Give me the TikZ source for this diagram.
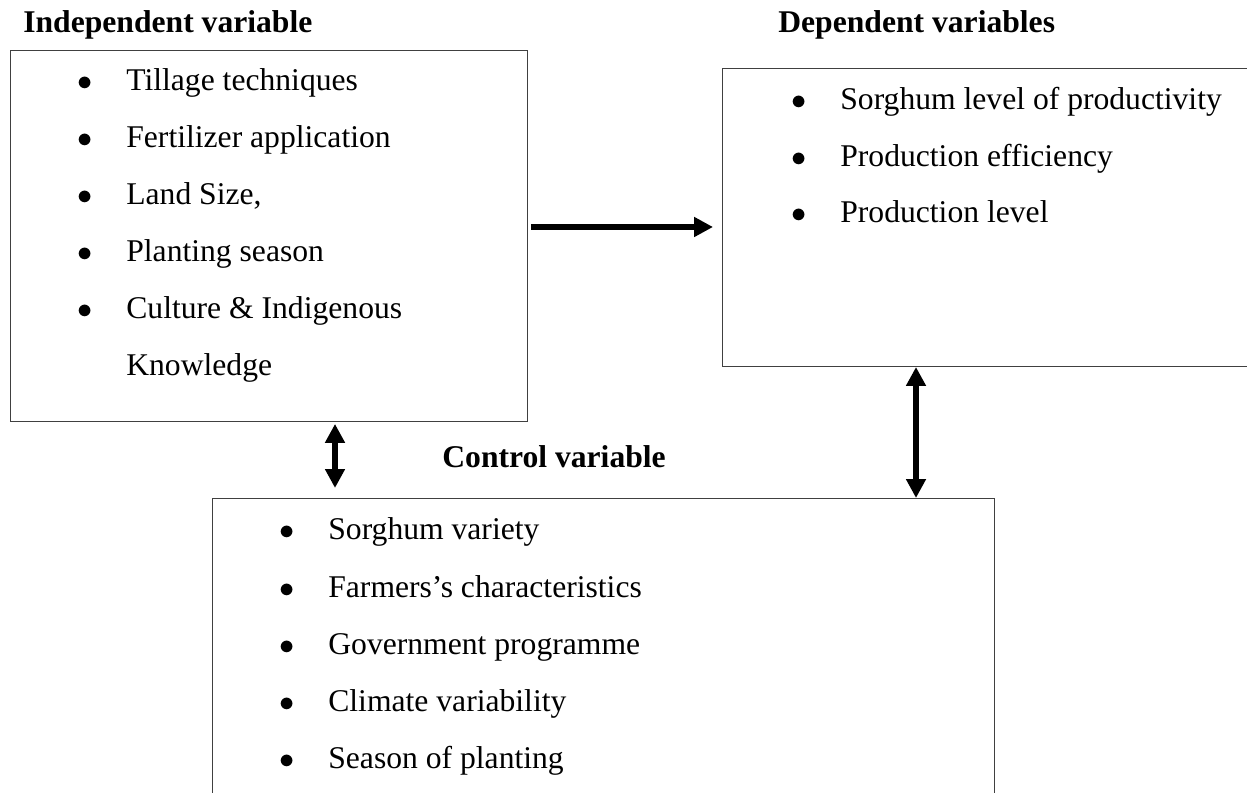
\documentclass[tikz,border=0pt]{standalone}
\usepackage{fontspec}
\setmainfont{Liberation Serif}
\usetikzlibrary{arrows.meta}
\newcommand{\bul}{\llap{$\bullet$\hspace{19.3pt}}}
\begin{document}
\begin{tikzpicture}[x=0.02cm, y=-0.02cm,
  varbox/.style={draw=black!75, line width=0.6pt, anchor=north west, inner sep=0pt},
  head/.style={font=\fontsize{18}{21.6}\selectfont\bfseries, anchor=base west, inner sep=0pt},
  itm/.style={font=\fontsize{18}{21.6}\selectfont, anchor=base west, inner sep=0pt},
  fat/.style={line width=3.1pt, -{Triangle[length=10.8pt,width=10.8pt]}},
  fatboth/.style={line width=3.1pt, {Triangle[length=10.8pt,width=10.8pt]}-{Triangle[length=10.8pt,width=10.8pt]}}]
\useasboundingbox (0,0) rectangle (1247,793);
% boxes
\node[varbox, minimum width=10.34cm, minimum height=7.42cm] (indep) at (10,50) {};
\node[varbox, minimum width=10.6cm, minimum height=5.96cm] (dep) at (722,68) {};
\node[varbox, minimum width=15.64cm, minimum height=6cm] (ctrl) at (212,498) {};
% headings
\node[head] (hindep) at (23,33) {Independent variable};
\node[head] (hdep) at (778,33) {Dependent variables};
\node[head] (hctrl) at (442,468) {Control variable};
% independent
\node[itm] (i1) at (126,91) {\bul Tillage techniques};
\node[itm] (i2) at (126,148) {\bul Fertilizer application};
\node[itm] (i3) at (126,205) {\bul Land Size,};
\node[itm] (i4) at (126,262) {\bul Planting season};
\node[itm] (i5) at (126,319) {\bul Culture \& Indigenous};
\node[itm] (i6) at (126,376) {Knowledge};
% dependent
\node[itm] (d1) at (840,110) {\bul Sorghum level of productivity};
\node[itm] (d2) at (840,167) {\bul Production efficiency};
\node[itm] (d3) at (840,223) {\bul Production level};
% control
\node[itm] (c1) at (328,540) {\bul Sorghum variety};
\node[itm] (c2) at (328,597) {\bul Farmers’s characteristics};
\node[itm] (c3) at (328,654) {\bul Government programme};
\node[itm] (c4) at (328,711) {\bul Climate variability};
\node[itm] (c5) at (328,768) {\bul Season of planting};
% arrows
\coordinate (flow) at (620,227);
\coordinate (lx) at (335,460);
\coordinate (rx) at (916,430);
\draw[fat, shorten <=1.7pt, shorten >=5.1pt] (flow -| indep.east) -- (flow -| dep.west);
\draw[fatboth, shorten <=1.1pt, shorten >=5.7pt] (lx |- indep.south) -- (lx |- ctrl.north);
\draw[fatboth] (rx |- dep.south) -- (rx |- ctrl.north);
\end{tikzpicture}
\end{document}
